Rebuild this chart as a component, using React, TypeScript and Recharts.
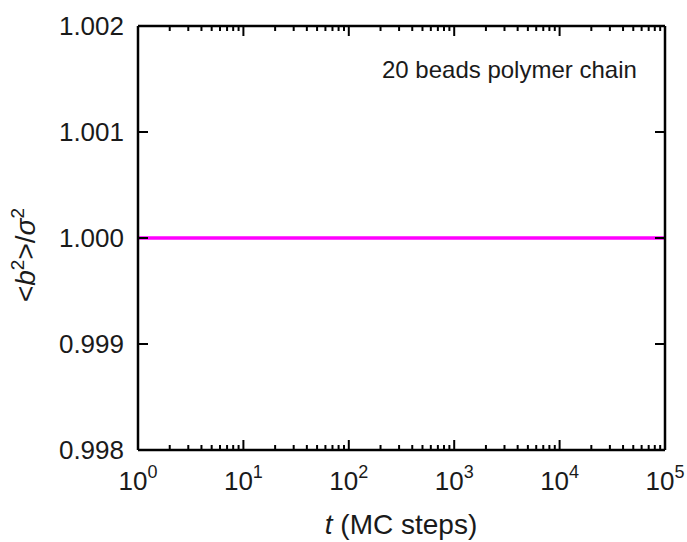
import React from 'react';
import { LineChart, Line, XAxis, YAxis } from 'recharts';

// mean squared bond length vs MC time (20-bead chain, fixed bonds)
const tSteps = [1, 10, 100, 1000, 10000, 100000];
const bondRatio = [1.0, 1.0, 1.0, 1.0, 1.0, 1.0];

const xMajorTicks = [1, 10, 100, 1000, 10000, 100000];
const xMinorMultiples = [2, 3, 4, 5, 6, 7, 8, 9];
const yTicks = [0.998, 0.999, 1.0, 1.001, 1.002];

const xTicks = xMajorTicks.flatMap((d, i) =>
  i < xMajorTicks.length - 1 ? [d, ...xMinorMultiples.map((m) => m * d)] : [d]
);

const data = tSteps.map((t, i) => ({ t, b2: bondRatio[i] }));

const FONT = '"Liberation Sans", Arial, Helvetica, sans-serif';
const INK = '#1a1a1a';
const MAJOR = 10;
const MINOR = 5;

function BottomTick(props: any) {
  const { x, y, payload } = props;
  const v = payload.value;
  const major = xMajorTicks.includes(v);
  const exp = Math.round(Math.log10(v));
  return (
    <g>
      <line x1={x} y1={y} x2={x} y2={y - (major ? MAJOR : MINOR)} stroke="#000" strokeWidth={2} />
      {major && (
        <text x={x} y={y + 40} textAnchor="middle" fontSize={26} fill={INK} fontFamily={FONT}>
          10
          <tspan dy={-12} fontSize={18}>
            {exp}
          </tspan>
        </text>
      )}
    </g>
  );
}

function TopTick(props: any) {
  const { x, y, payload } = props;
  const major = xMajorTicks.includes(payload.value);
  return <line x1={x} y1={y} x2={x} y2={y + (major ? MAJOR : MINOR)} stroke="#000" strokeWidth={2} />;
}

function LeftTick(props: any) {
  const { x, y, payload } = props;
  return (
    <g>
      <line x1={x} y1={y} x2={x + MAJOR} y2={y} stroke="#000" strokeWidth={2} />
      <text x={x - 14} y={y + 9} textAnchor="end" fontSize={26} fill={INK} fontFamily={FONT}>
        {Number(payload.value).toFixed(3)}
      </text>
    </g>
  );
}

function RightTick(props: any) {
  const { x, y } = props;
  return <line x1={x} y1={y} x2={x - MAJOR} y2={y} stroke="#000" strokeWidth={2} />;
}

const frame = { stroke: '#000', strokeWidth: 2.5 };

export default function App() {
  return (
    <div style={{ position: 'absolute', left: 0, top: 0, width: 687, height: 542, background: '#fff' }}>
      <LineChart width={687} height={542} data={data} margin={{ top: 25, right: 21, bottom: 91, left: 137 }}>
        <XAxis
          xAxisId="b"
          dataKey="t"
          type="number"
          scale="log"
          domain={[1, 100000]}
          allowDataOverflow
          ticks={xTicks}
          interval={0}
          height={1}
          tickSize={0}
          tickMargin={0}
          tickLine={false}
          axisLine={frame}
          tick={<BottomTick />}
        />
        <XAxis
          xAxisId="t"
          orientation="top"
          dataKey="t"
          type="number"
          scale="log"
          domain={[1, 100000]}
          allowDataOverflow
          ticks={xTicks}
          interval={0}
          height={1}
          tickSize={0}
          tickMargin={0}
          tickLine={false}
          axisLine={frame}
          tick={<TopTick />}
        />
        <YAxis
          yAxisId="l"
          type="number"
          domain={[0.998, 1.002]}
          allowDataOverflow
          ticks={yTicks}
          interval={0}
          width={1}
          tickSize={0}
          tickMargin={0}
          tickLine={false}
          axisLine={frame}
          tick={<LeftTick />}
        />
        <YAxis
          yAxisId="r"
          orientation="right"
          type="number"
          domain={[0.998, 1.002]}
          allowDataOverflow
          ticks={yTicks}
          interval={0}
          width={1}
          tickSize={0}
          tickMargin={0}
          tickLine={false}
          axisLine={frame}
          tick={<RightTick />}
        />
        <Line
          xAxisId="b"
          yAxisId="l"
          dataKey="b2"
          stroke="#ff00ff"
          strokeWidth={3.5}
          dot={false}
          isAnimationActive={false}
        />
      </LineChart>
      <svg
        width={687}
        height={542}
        style={{ position: 'absolute', left: 0, top: 0, pointerEvents: 'none' }}
        fontFamily={FONT}
        fill={INK}
      >
        <text x={382} y={78} fontSize={24}>
          20 beads polymer chain
        </text>
        <text x={401} y={534} fontSize={28} textAnchor="middle">
          <tspan fontStyle="italic">t</tspan> (MC steps)
        </text>
        <text x={35} y={255} fontSize={28} textAnchor="middle" transform="rotate(-90 35 255)">
          &lt;<tspan fontStyle="italic">b</tspan>
          <tspan dy={-11} fontSize={19}>2</tspan>
          <tspan dy={11}>&gt;/</tspan>
          <tspan fontStyle="italic">σ</tspan>
          <tspan dy={-11} fontSize={19}>2</tspan>
        </text>
      </svg>
    </div>
  );
}
